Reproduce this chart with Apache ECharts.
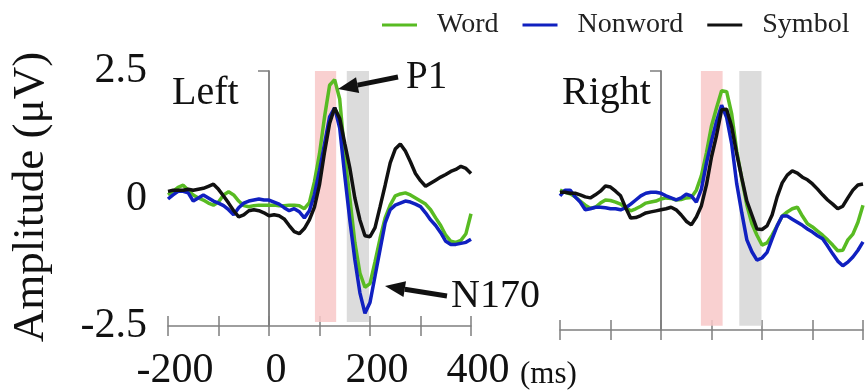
<!DOCTYPE html>
<html>
<head>
<meta charset="utf-8">
<script src="https://cdn.jsdelivr.net/npm/echarts@6/dist/echarts.min.js"></script>
<style>
  html, body { margin: 0; padding: 0; background: #fff; }
  #chart { width: 865px; height: 392px; }
</style>
</head>
<body>
<div id="chart"></div>
<script>
// time points (ms), 10 ms step
const times = []
for (let t = -200; t <= 400; t += 10) times.push(t)

// amplitudes (µV), one value per time point
const leftWord = [0.07, 0.14, 0.22, 0.26, 0.16, 0.07, 0.01, -0.03, -0.09, -0.13, -0.07, 0.07, 0.13, 0.07, -0.05, -0.14, -0.16, -0.14, -0.13, -0.13,
  -0.13, -0.13, -0.14, -0.14, -0.13, -0.13, -0.14, -0.20, -0.08, 0.33, 0.88, 1.60, 2.22, 2.33, 1.95, 0.85, 0.01, -0.86, -1.46, -1.74,
  -1.67, -1.24, -0.78, -0.38, -0.13, 0.05, 0.09, 0.11, 0.07, 0.01, -0.05, -0.11, -0.22, -0.38, -0.53, -0.72, -0.84, -0.86, -0.82, -0.69, -0.30]
const leftNonword = [-0.01, 0.07, 0.14, 0.14, 0.11, -0.05, 0.01, 0.07, 0.01, -0.05, -0.09, -0.14, -0.22, -0.32, -0.18, -0.09, -0.05, -0.03, -0.01, -0.03,
  -0.03, -0.07, -0.11, -0.18, -0.24, -0.20, -0.26, -0.38, -0.24, 0.08, 0.55, 1.07, 1.60, 1.78, 1.38, 0.45, -0.42, -1.20, -1.85, -2.25,
  -2.04, -1.52, -1.00, -0.48, -0.22, -0.13, -0.09, -0.05, -0.07, -0.11, -0.16, -0.28, -0.42, -0.53, -0.67, -0.84, -0.90, -0.90, -0.88, -0.86, -0.80]
const leftSymbol = [0.14, 0.16, 0.16, 0.16, 0.18, 0.16, 0.18, 0.20, 0.24, 0.28, 0.18, 0.05, -0.09, -0.24, -0.36, -0.32, -0.24, -0.22, -0.24, -0.28,
  -0.34, -0.32, -0.34, -0.40, -0.53, -0.65, -0.69, -0.59, -0.42, -0.17, 0.27, 0.91, 1.47, 1.78, 1.57, 1.08, 0.60, 0.01, -0.42, -0.73,
  -0.75, -0.57, -0.16, 0.26, 0.70, 0.97, 1.07, 0.93, 0.72, 0.49, 0.35, 0.24, 0.30, 0.36, 0.42, 0.47, 0.53, 0.57, 0.63, 0.59, 0.49]
const rightWord = [0.20, 0.16, 0.13, 0.07, -0.01, -0.09, -0.15, -0.13, -0.05, 0.01, 0.00, -0.03, -0.07, -0.14, -0.20, -0.16, -0.11, -0.05, -0.03, -0.01,
  0.03, 0.05, 0.04, 0.01, 0.02, 0.05, 0.06, 0.20, 0.48, 0.92, 1.44, 1.79, 2.12, 2.10, 1.67, 0.95, 0.42, -0.09, -0.45, -0.67,
  -0.86, -0.82, -0.67, -0.49, -0.30, -0.22, -0.16, -0.13, -0.30, -0.45, -0.51, -0.59, -0.67, -0.76, -0.86, -0.97, -0.96, -0.76, -0.65, -0.42, -0.09]
const rightNonword = [0.09, 0.20, 0.20, 0.07, -0.03, -0.18, -0.16, -0.13, -0.13, -0.14, -0.16, -0.16, -0.18, -0.14, -0.07, 0.01, 0.09, 0.14, 0.16, 0.16,
  0.14, 0.09, 0.05, 0.01, 0.05, 0.12, 0.09, -0.03, 0.22, 0.72, 1.15, 1.53, 1.84, 1.60, 1.09, 0.32, -0.24, -0.76, -0.99, -1.15,
  -1.11, -1.00, -0.74, -0.49, -0.30, -0.30, -0.36, -0.42, -0.48, -0.55, -0.61, -0.68, -0.74, -0.88, -1.03, -1.17, -1.26, -1.19, -1.09, -0.96, -0.80]
const rightSymbol = [0.16, 0.16, 0.14, 0.14, 0.11, 0.07, 0.05, 0.11, 0.18, 0.28, 0.26, 0.18, 0.09, -0.14, -0.34, -0.33, -0.29, -0.24, -0.22, -0.20,
  -0.18, -0.16, -0.13, -0.18, -0.28, -0.40, -0.47, -0.32, -0.10, 0.30, 0.84, 1.26, 1.75, 1.76, 1.42, 0.90, 0.43, -0.01, -0.28, -0.55,
  -0.56, -0.49, -0.28, 0.07, 0.34, 0.49, 0.57, 0.53, 0.45, 0.40, 0.32, 0.22, 0.11, 0.01, -0.07, -0.16, -0.11, 0.05, 0.20, 0.30, 0.32]

// shaded analysis windows (ms)
const leftWindows = [[91, 133], [154, 198]]
const rightWindows = [[79, 122], [155, 199]]

const legendNames = ["Word", "Nonword", "Symbol"]
const colors = ["#58bb22", "#1020c0", "#111111"]
const yTicks = [-2.5, 0, 2.5]

const serif = "Liberation Serif, Times New Roman, serif"
const axisGray = { color: "#7f7f7f", width: 1.5 }
const bandColors = ["rgba(248, 200, 200, 0.85)", "rgba(214, 214, 214, 0.85)"]

const pairs = vals => times.map((t, i) => [t, vals[i]])

function xAxes(grid, withLabels) {
  return [
    {
      gridIndex: grid, type: "value", min: -200, max: 400, interval: 100, position: "bottom",
      axisLine: { onZero: false, lineStyle: axisGray },
      axisTick: { length: 10, lineStyle: axisGray },
      axisLabel: {
        show: withLabels, margin: 24, fontSize: 42, fontFamily: serif, color: "#111",
        padding: [0, 0, 0, 14],
        formatter: v => (v % 200 === 0 ? String(v) : ""),
      },
      splitLine: { show: false },
    },
    {
      gridIndex: grid, type: "value", min: -200, max: 400, interval: 100, position: "bottom",
      axisLine: { onZero: false, show: false },
      axisTick: { inside: true, length: 10, lineStyle: axisGray },
      axisLabel: { show: false },
      splitLine: { show: false },
    },
  ]
}

function yAxes(grid, xIdx, withLabels) {
  const base = { gridIndex: grid, type: "value", min: -2.5, max: 2.5, interval: 2.5, splitLine: { show: false } }
  return [
    // vertical line at t = 0 with a cap on top
    Object.assign({}, base, {
      axisLine: { onZero: true, onZeroAxisIndex: xIdx, lineStyle: axisGray },
      axisTick: { customValues: [2.5], length: 11, lineStyle: axisGray },
      axisLabel: { show: false },
    }),
    Object.assign({}, base, {
      axisLine: { onZero: true, onZeroAxisIndex: xIdx, lineStyle: axisGray },
      axisTick: { customValues: [2.5], inside: true, length: 11, lineStyle: axisGray },
      axisLabel: { show: false },
    }),
    // tick labels on the left edge
    Object.assign({}, base, {
      position: "left",
      axisLine: { show: false, onZero: false },
      axisTick: { show: false },
      axisLabel: {
        show: withLabels, margin: 21, fontSize: 42, fontFamily: serif, color: "#111",
        padding: [0, 0, 9, 0],
        formatter: v => (yTicks.includes(v) ? String(v) : ""),
      },
    }),
  ]
}

function panelSeries(xIdx, yIdx, data, windows) {
  return data.map((vals, i) => {
    const s = {
      name: legendNames[i], type: "line", xAxisIndex: xIdx, yAxisIndex: yIdx,
      data: pairs(vals), showSymbol: false, symbol: "none", z: 3 + i,
      color: colors[i], lineStyle: { width: 3.5, color: colors[i] }, animation: false,
    }
    if (i === 0) {
      s.markArea = {
        silent: true,
        data: windows.map((w, k) => [
          { xAxis: w[0], yAxis: -2.42, itemStyle: { color: bandColors[k] } },
          { xAxis: w[1], yAxis: 2.5 },
        ]),
      }
    }
    return s
  })
}

function arrow(tail, tip, headLen, halfW) {
  const dx = tip[0] - tail[0], dy = tip[1] - tail[1]
  const len = Math.sqrt(dx * dx + dy * dy)
  const ux = dx / len, uy = dy / len
  const bx = tip[0] - ux * headLen, by = tip[1] - uy * headLen
  return [
    { type: "polyline", shape: { points: [tail, [bx, by]] }, style: { stroke: "#111", lineWidth: 5, fill: null }, z: 10 },
    {
      type: "polygon",
      shape: { points: [tip, [bx - uy * halfW, by + ux * halfW], [bx + uy * halfW, by - ux * halfW]] },
      style: { fill: "#111" }, z: 10,
    },
  ]
}

const chart = echarts.init(document.getElementById("chart"))
chart.setOption({
  backgroundColor: "#fff",
  animation: false,
  legend: {
    data: legendNames, left: 377, top: 6, icon: "rect", itemWidth: 35, itemHeight: 3, itemGap: 24,
    textStyle: { fontSize: 28, fontFamily: serif, color: "#222", padding: [0, 0, 0, 15] },
  },
  grid: [
    { left: 168, top: 71, width: 303, height: 259 },
    { left: 560, top: 71, width: 303, height: 259 },
  ],
  xAxis: [...xAxes(0, true), ...xAxes(1, false)],
  yAxis: [...yAxes(0, 0, true), ...yAxes(1, 2, false)],
  series: [
    ...panelSeries(0, 0, [leftWord, leftNonword, leftSymbol], leftWindows),
    ...panelSeries(2, 3, [rightWord, rightNonword, rightSymbol], rightWindows),
  ],
  graphic: [
    {
      type: "text", x: 31, y: 197, rotation: Math.PI / 2,
      style: { text: "Amplitude (μV)", font: "45px " + serif, fill: "#111", align: "center", verticalAlign: "middle" },
    },
    { type: "text", x: 172, y: 93, style: { text: "Left", font: "40px " + serif, fill: "#111", verticalAlign: "middle" } },
    { type: "text", x: 562, y: 93, style: { text: "Right", font: "40px " + serif, fill: "#111", verticalAlign: "middle" } },
    { type: "text", x: 406, y: 78, style: { text: "P1", font: "39px " + serif, fill: "#111", verticalAlign: "middle" } },
    { type: "text", x: 451, y: 296, style: { text: "N170", font: "40px " + serif, fill: "#111", verticalAlign: "middle" } },
    { type: "text", x: 520, y: 375, style: { text: "(ms)", font: "31px " + serif, fill: "#111", verticalAlign: "middle" } },
    ...arrow([398, 77], [338, 89], 20, 8),
    ...arrow([447, 296], [385, 286], 20, 8),
  ],
})
</script>
</body>
</html>
